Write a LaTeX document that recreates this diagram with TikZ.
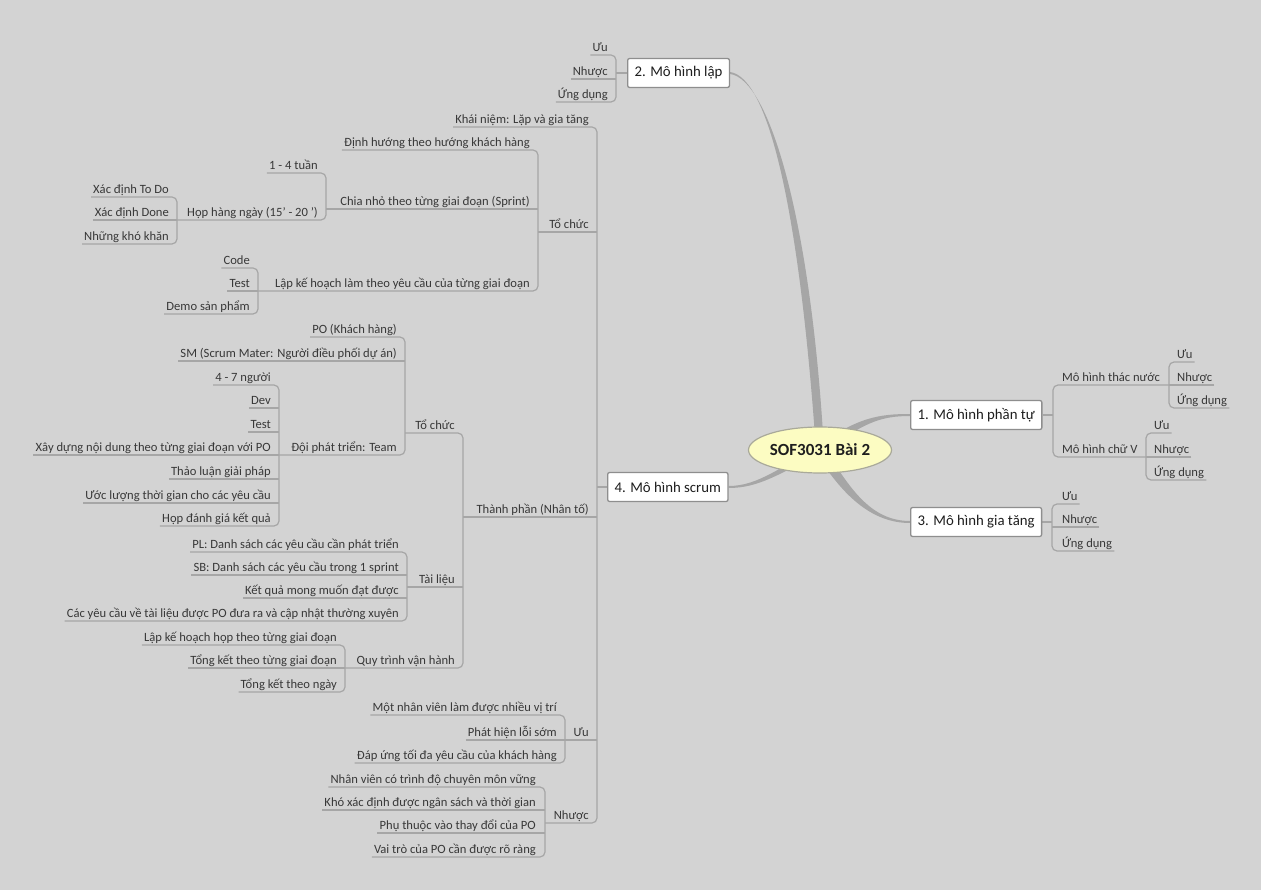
\documentclass[tikz,border=0pt]{standalone}
\usepackage{fontspec}
\setmainfont{Carlito}
\usetikzlibrary{shapes.geometric,calc}
\definecolor{bgc}{HTML}{D3D3D3}
\definecolor{linec}{HTML}{A6A6A6}
\definecolor{txt}{HTML}{383838}
\definecolor{maintxt}{HTML}{1E1E1E}
\definecolor{boxc}{HTML}{8E8E8E}
\definecolor{rootf}{HTML}{FCFCC2}
\definecolor{rootb}{HTML}{A9A99A}
\pgfdeclarelayer{bglayer}
\pgfsetlayers{bglayer,main}
\tikzset{
  conn/.style={draw=linec, line width=1.2pt},
  spine/.style={conn, rounded corners=5pt},
  lbl/.style={font=\fontsize{12.6}{14}\selectfont, text=txt, inner xsep=0pt, inner ysep=0pt, text height=9.5pt, text depth=3.5pt},
  lL/.style={lbl, anchor=south east},
  lR/.style={lbl, anchor=south west},
  mainbox/.style={draw=boxc, fill=white, line width=1.3pt, rounded corners=2pt, font=\fontsize{14.8}{16}\selectfont, text=maintxt, minimum height=29pt, inner xsep=7pt, anchor=west},
  rootnode/.style={ellipse, draw=rootb, fill=rootf, line width=1.2pt, minimum width=143pt, minimum height=46pt, inner sep=0pt, font=\bfseries\fontsize{17}{20}\selectfont, text=maintxt},
  trunk/.style={fill=linec}
}
\begin{document}
\begin{tikzpicture}[x=1pt,y=-1pt]
\begin{pgfonlayer}{bglayer}
\fill[bgc] (0,0) rectangle (1261,890);
\end{pgfonlayer}
\useasboundingbox (0,0) rectangle (1261,890);

% root and main boxes
\node[rootnode] (root) at (820,450) {SOF3031 Bài 2};
\node[mainbox] (lap) at (627,73) {2. Mô hình lập};
\node[mainbox] (pt) at (910,415) {1. Mô hình phần tự};
\node[mainbox] (gt) at (910,522) {3. Mô hình gia tăng};
\node[mainbox] (sc) at (607,487) {4. Mô hình scrum};

% spine coordinates
\coordinate (sp-lap) at (616,73);
\coordinate (sp-sc) at (597,487);
\coordinate (sp-tc1) at (538,232);
\coordinate (sp-cn) at (326,209);
\coordinate (sp-hop) at (177,220);
\coordinate (sp-lk) at (258,291);
\coordinate (sp-tp) at (463,517);
\coordinate (sp-tc2) at (405,433);
\coordinate (sp-dpt) at (279,455);
\coordinate (sp-tl) at (407,587);
\coordinate (sp-qt) at (345,668);
\coordinate (sp-uu) at (565,740);
\coordinate (sp-nh) at (545,823);
\coordinate (sp-pt) at (1053,415);
\coordinate (sp-tn) at (1169,385);
\coordinate (sp-cv) at (1146,457);
\coordinate (sp-gt) at (1052,522);

% 2. Mo hinh lap
\node[lL] (lapUu) at (608,55) {Ưu};
\node[lL] (lapNh) at (608,79) {Nhược};
\node[lL] (lapUd) at (608,102) {Ứng dụng};

% 4. scrum, level 1
\node[lL] (kn) at (589,127) {Khái niệm: Lặp và gia tăng};
\node[lL] (tc1) at (589,232) {Tổ chức};
\node[lL] (tp) at (589,517) {Thành phần (Nhân tố)};
\node[lL] (scUu) at (589,740) {Ưu};
\node[lL] (scNh) at (589,823) {Nhược};

% To chuc (1)
\node[lL] (dh) at (530,150) {Định hướng theo hướng khách hàng};
\node[lL] (cn) at (530,209) {Chia nhỏ theo từng giai đoạn (Sprint)};
\node[lL] (lk) at (530,291) {Lập kế hoạch làm theo yêu cầu của từng giai đoạn};
\node[lL] (t14) at (318,173) {1 - 4 tuần};
\node[lL] (hop) at (318,220) {Họp hàng ngày (15' - 20 ')};
\node[lL] (todo) at (169,197) {Xác định To Do};
\node[lL] (done) at (169,220) {Xác định Done};
\node[lL] (kk) at (169,244) {Những khó khăn};
\node[lL] (code) at (250,268) {Code};
\node[lL] (test1) at (250,291) {Test};
\node[lL] (demo) at (250,314) {Demo sản phẩm};

% Thanh phan
\node[lL] (tc2) at (455,433) {Tổ chức};
\node[lL] (tl) at (455,587) {Tài liệu};
\node[lL] (qt) at (455,668) {Quy trình vận hành};
\node[lL] (po) at (397,337) {PO (Khách hàng)};
\node[lL] (sm) at (397,361) {SM (Scrum Mater: Người điều phối dự án)};
\node[lL] (dpt) at (397,455) {Đội phát triển: Team};
\node[lL] (n47) at (271,385) {4 - 7 người};
\node[lL] (dev) at (271,408) {Dev};
\node[lL] (test2) at (271,432) {Test};
\node[lL] (xd) at (271,455) {Xây dựng nội dung theo từng giai đoạn với PO};
\node[lL] (tl2) at (271,479) {Thảo luận giải pháp};
\node[lL] (ul) at (271,503) {Ước lượng thời gian cho các yêu cầu};
\node[lL] (hd) at (271,526) {Họp đánh giá kết quả};
\node[lL] (pl) at (399,552) {PL: Danh sách các yêu cầu cần phát triển};
\node[lL] (sb) at (399,575) {SB: Danh sách các yêu cầu trong 1 sprint};
\node[lL] (kq) at (399,598) {Kết quả mong muốn đạt được};
\node[lL] (cyc) at (399,621) {Các yêu cầu về tài liệu được PO đưa ra và cập nhật thường xuyên};
\node[lL] (lkh) at (337,645) {Lập kế hoạch họp theo từng giai đoạn};
\node[lL] (tk1) at (337,668) {Tổng kết theo từng giai đoạn};
\node[lL] (tk2) at (337,692) {Tổng kết theo ngày};

% Uu / Nhuoc scrum
\node[lL] (u1) at (557,715) {Một nhân viên làm được nhiều vị trí};
\node[lL] (u2) at (557,740) {Phát hiện lỗi sớm};
\node[lL] (u3) at (557,763) {Đáp ứng tối đa yêu cầu của khách hàng};
\node[lL] (nh1) at (536,787) {Nhân viên có trình độ chuyên môn vững};
\node[lL] (nh2) at (536,810) {Khó xác định được ngân sách và thời gian};
\node[lL] (nh3) at (536,833) {Phụ thuộc vào thay đổi của PO};
\node[lL] (nh4) at (536,857) {Vai trò của PO cần được rõ ràng};

% right side
\node[lR] (tn) at (1062,385) {Mô hình thác nước};
\node[lR] (cv) at (1062,457) {Mô hình chữ V};
\node[lR] (tnU) at (1177,362) {Ưu};
\node[lR] (tnN) at (1177,385) {Nhược};
\node[lR] (tnD) at (1177,408) {Ứng dụng};
\node[lR] (cvU) at (1154,433) {Ưu};
\node[lR] (cvN) at (1154,457) {Nhược};
\node[lR] (cvD) at (1154,480) {Ứng dụng};
\node[lR] (gtU) at (1062,504) {Ưu};
\node[lR] (gtN) at (1062,527) {Nhược};
\node[lR] (gtD) at (1062,551) {Ứng dụng};

\begin{pgfonlayer}{bglayer}
% tapered main branches
\fill[trunk] ([yshift=1pt]lap.east) .. controls +(40,6) and +(-16,-230) .. ([xshift=-4pt]root.center) -- ([xshift=4pt]root.center) .. controls +(-13,-230) and +(39,5) .. ([yshift=-1pt]lap.east) -- cycle;
\fill[trunk] ([yshift=1pt]pt.west) .. controls +(-30,0) and +(40,-30) .. ([shift={(-3,-3)}]root.center) -- ([shift={(3,3)}]root.center) .. controls +(40,-30) and +(-30,0) .. ([yshift=-1pt]pt.west) -- cycle;
\fill[trunk] ([yshift=1pt]gt.west) .. controls +(-40,0) and +(25,40) .. ([shift={(4,-3)}]root.center) -- ([shift={(-4,3)}]root.center) .. controls +(25,40) and +(-40,0) .. ([yshift=-1pt]gt.west) -- cycle;
\fill[trunk] ([yshift=1pt]sc.east) .. controls +(30,0) and +(-40,20) .. ([shift={(1,-4)}]root.center) -- ([shift={(-1,4)}]root.center) .. controls +(-40,20) and +(30,0) .. ([yshift=-1pt]sc.east) -- cycle;

% lap group
\draw[conn] (lap.west) -- (sp-lap);
\draw[spine] ([xshift=-2pt]lapUu.south west) -- (lapUu.south -| sp-lap) -- (lapUd.south -| sp-lap) -- ([xshift=-2pt]lapUd.south west);
\draw[conn] ([xshift=-2pt]lapNh.south west) -- (lapNh.south -| sp-lap);

% scrum group
\draw[conn] (sc.west) -- (sp-sc);
\draw[spine] ([xshift=-2pt]kn.south west) -- (kn.south -| sp-sc) -- (scNh.south -| sp-sc) -- (sp-nh);
\draw[conn] (sp-tc1) -- (tc1.south -| sp-sc);
\draw[conn] (sp-tp) -- (tp.south -| sp-sc);
\draw[conn] (sp-uu) -- (scUu.south -| sp-sc);

% to chuc 1
\draw[spine] ([xshift=-2pt]dh.south west) -- (dh.south -| sp-tc1) -- (lk.south -| sp-tc1) -- (sp-lk);
\draw[conn] (sp-cn) -- (cn.south -| sp-tc1);
\draw[spine] ([xshift=-2pt]t14.south west) -- (t14.south -| sp-cn) -- (hop.south -| sp-cn) -- (sp-hop);
\draw[spine] ([xshift=-2pt]todo.south west) -- (todo.south -| sp-hop) -- (kk.south -| sp-hop) -- ([xshift=-2pt]kk.south west);
\draw[conn] ([xshift=-2pt]done.south west) -- (done.south -| sp-hop);
\draw[spine] ([xshift=-2pt]code.south west) -- (code.south -| sp-lk) -- (demo.south -| sp-lk) -- ([xshift=-2pt]demo.south west);
\draw[conn] ([xshift=-2pt]test1.south west) -- (test1.south -| sp-lk);

% thanh phan
\draw[spine] (sp-tc2) -- (tc2.south -| sp-tp) -- (qt.south -| sp-tp) -- (sp-qt);
\draw[conn] (sp-tl) -- (tl.south -| sp-tp);
\draw[spine] ([xshift=-2pt]po.south west) -- (po.south -| sp-tc2) -- (dpt.south -| sp-tc2) -- (sp-dpt);
\draw[conn] ([xshift=-2pt]sm.south west) -- (sm.south -| sp-tc2);
\draw[spine] ([xshift=-2pt]n47.south west) -- (n47.south -| sp-dpt) -- (hd.south -| sp-dpt) -- ([xshift=-2pt]hd.south west);
\foreach \n in {dev,test2,xd,tl2,ul}
  \draw[conn] ([xshift=-2pt]\n.south west) -- (\n.south -| sp-dpt);
\draw[spine] ([xshift=-2pt]pl.south west) -- (pl.south -| sp-tl) -- (cyc.south -| sp-tl) -- ([xshift=-2pt]cyc.south west);
\foreach \n in {sb,kq}
  \draw[conn] ([xshift=-2pt]\n.south west) -- (\n.south -| sp-tl);
\draw[spine] ([xshift=-2pt]lkh.south west) -- (lkh.south -| sp-qt) -- (tk2.south -| sp-qt) -- ([xshift=-2pt]tk2.south west);
\draw[conn] ([xshift=-2pt]tk1.south west) -- (tk1.south -| sp-qt);

% uu / nhuoc
\draw[spine] ([xshift=-2pt]u1.south west) -- (u1.south -| sp-uu) -- (u3.south -| sp-uu) -- ([xshift=-2pt]u3.south west);
\draw[conn] ([xshift=-2pt]u2.south west) -- (u2.south -| sp-uu);
\draw[spine] ([xshift=-2pt]nh1.south west) -- (nh1.south -| sp-nh) -- (nh4.south -| sp-nh) -- ([xshift=-2pt]nh4.south west);
\foreach \n in {nh2,nh3}
  \draw[conn] ([xshift=-2pt]\n.south west) -- (\n.south -| sp-nh);

% right side
\draw[conn] (pt.east) -- (sp-pt);
\draw[spine] (sp-tn) -- (tn.south -| sp-pt) -- (cv.south -| sp-pt) -- (sp-cv);
\draw[spine] ([xshift=2pt]tnU.south east) -- (tnU.south -| sp-tn) -- (tnD.south -| sp-tn) -- ([xshift=2pt]tnD.south east);
\draw[conn] ([xshift=2pt]tnN.south east) -- (tnN.south -| sp-tn);
\draw[spine] ([xshift=2pt]cvU.south east) -- (cvU.south -| sp-cv) -- (cvD.south -| sp-cv) -- ([xshift=2pt]cvD.south east);
\draw[conn] ([xshift=2pt]cvN.south east) -- (cvN.south -| sp-cv);
\draw[conn] (gt.east) -- (sp-gt);
\draw[spine] ([xshift=2pt]gtU.south east) -- (gtU.south -| sp-gt) -- (gtD.south -| sp-gt) -- ([xshift=2pt]gtD.south east);
\draw[conn] ([xshift=2pt]gtN.south east) -- (gtN.south -| sp-gt);
\end{pgfonlayer}
\end{tikzpicture}
\end{document}
